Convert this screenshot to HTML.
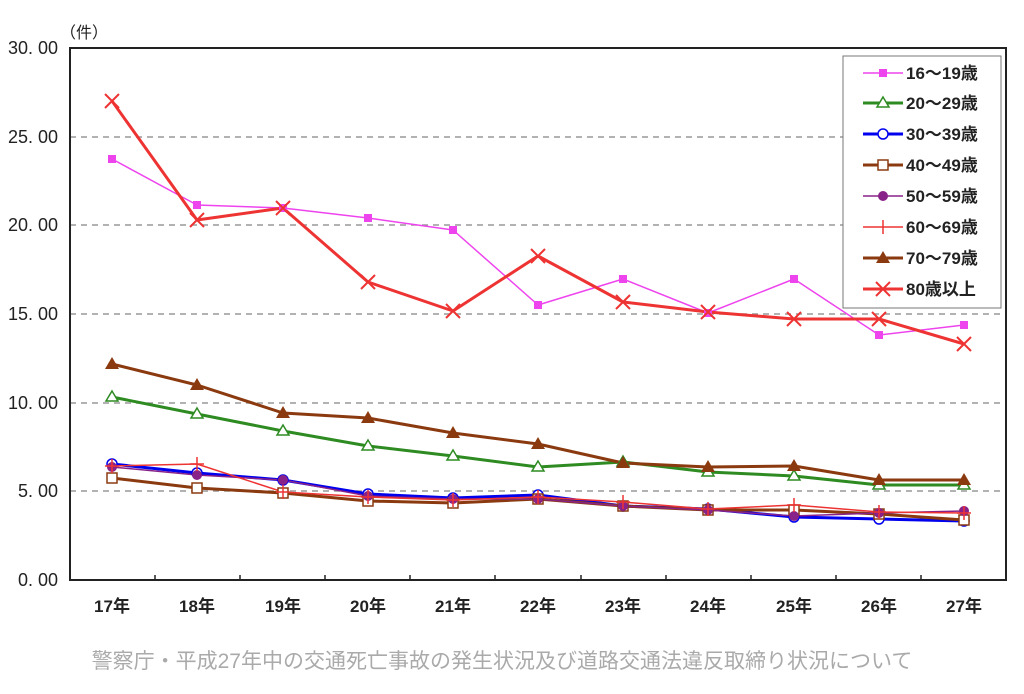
<!DOCTYPE html>
<html><head><meta charset="utf-8"><style>
body{margin:0;background:#fff;}
svg text{font-family:"Liberation Sans","Noto Sans CJK JP",sans-serif;}
</style></head><body>
<svg width="1024" height="689" viewBox="0 0 1024 689" xmlns="http://www.w3.org/2000/svg">
<g stroke="#999" stroke-width="1.5" stroke-dasharray="6,5">
<line x1="70" y1="137" x2="1006" y2="137"/><line x1="70" y1="225" x2="1006" y2="225"/>
<line x1="70" y1="314" x2="1006" y2="314"/><line x1="70" y1="403" x2="1006" y2="403"/>
<line x1="70" y1="491" x2="1006" y2="491"/>
</g>
<rect x="70" y="48" width="936" height="532" fill="none" stroke="#222" stroke-width="2"/>
<g stroke="#222" stroke-width="1.5">
<line x1="155" y1="575" x2="155" y2="580"/><line x1="240" y1="575" x2="240" y2="580"/><line x1="325" y1="575" x2="325" y2="580"/><line x1="410" y1="575" x2="410" y2="580"/><line x1="495" y1="575" x2="495" y2="580"/><line x1="581" y1="575" x2="581" y2="580"/><line x1="666" y1="575" x2="666" y2="580"/><line x1="751" y1="575" x2="751" y2="580"/><line x1="836" y1="575" x2="836" y2="580"/><line x1="921" y1="575" x2="921" y2="580"/>
</g>
<g font-size="18" fill="#222" text-anchor="end">
<text x="58" y="54">30. 00</text><text x="58" y="143">25. 00</text><text x="58" y="231">20. 00</text><text x="58" y="320">15. 00</text><text x="58" y="409">10. 00</text><text x="58" y="497">5. 00</text><text x="58" y="586">0. 00</text>
</g>
<text x="60" y="38" font-size="16" fill="#222">（件）</text>
<g font-size="17" fill="#222" text-anchor="middle" font-weight="bold">
<text x="112" y="612">17年</text><text x="197" y="612">18年</text><text x="283" y="612">19年</text><text x="368" y="612">20年</text><text x="453" y="612">21年</text><text x="538" y="612">22年</text><text x="623" y="612">23年</text><text x="708" y="612">24年</text><text x="794" y="612">25年</text><text x="879" y="612">26年</text><text x="964" y="612">27年</text>
</g>
<text x="502" y="668" font-size="21" fill="#aaa" text-anchor="middle">警察庁・平成27年中の交通死亡事故の発生状況及び道路交通法違反取締り状況について</text>
<g fill="none" stroke-linejoin="round">
<polyline stroke="#ee44ee" stroke-width="1.5" points="112,159 197,205 283,208 368,218 453,230 538,305 623,279 708,313 794,279 879,335 964,325"/>
<polyline stroke="#2e8b22" stroke-width="3" points="112,397 197,414 283,431 368,446 453,456 538,467 623,462 708,472 794,476 879,485 964,485"/>
<polyline stroke="#0000ee" stroke-width="3" points="112,464 197,473 283,480 368,494 453,498 538,495 623,506 708,509 794,517 879,519 964,521"/>
<polyline stroke="#8b3a10" stroke-width="3" points="112,478 197,488 283,493 368,501 453,503 538,499 623,506 708,510 794,510 879,514 964,520"/>
<polyline stroke="#882288" stroke-width="1.5" points="112,467 197,475 283,480 368,496 453,499 538,499 623,506 708,510 794,516 879,513 964,511"/>
<polyline stroke="#ee3333" stroke-width="1.5" points="112,466 197,464 283,492 368,497 453,500 538,497 623,502 708,509 794,505 879,512 964,513"/>
<polyline stroke="#8b3a10" stroke-width="3" points="112,364 197,385 283,413 368,418 453,433 538,444 623,463 708,467 794,466 879,480 964,480"/>
<polyline stroke="#ee3333" stroke-width="3" points="112,101 197,220 283,208 368,282 453,311 538,256 623,302 708,312 794,319 879,319 964,344"/>
</g>
<g>
<g fill="#ee44ee"><rect x="108" y="155" width="8" height="8"/><rect x="193" y="201" width="8" height="8"/><rect x="279" y="204" width="8" height="8"/><rect x="364" y="214" width="8" height="8"/><rect x="449" y="226" width="8" height="8"/><rect x="534" y="301" width="8" height="8"/><rect x="619" y="275" width="8" height="8"/><rect x="704" y="309" width="8" height="8"/><rect x="790" y="275" width="8" height="8"/><rect x="875" y="331" width="8" height="8"/><rect x="960" y="321" width="8" height="8"/></g>
<g fill="#fff" stroke="#2e8b22" stroke-width="1.5"><path d="M112,391l6,10h-12z"/><path d="M197,408l6,10h-12z"/><path d="M283,425l6,10h-12z"/><path d="M368,440l6,10h-12z"/><path d="M453,450l6,10h-12z"/><path d="M538,461l6,10h-12z"/><path d="M623,456l6,10h-12z"/><path d="M708,466l6,10h-12z"/><path d="M794,470l6,10h-12z"/><path d="M879,479l6,10h-12z"/><path d="M964,479l6,10h-12z"/></g>
<g fill="#fff" stroke="#0000ee" stroke-width="1.5"><circle cx="112" cy="464" r="5"/><circle cx="197" cy="473" r="5"/><circle cx="283" cy="480" r="5"/><circle cx="368" cy="494" r="5"/><circle cx="453" cy="498" r="5"/><circle cx="538" cy="495" r="5"/><circle cx="623" cy="506" r="5"/><circle cx="708" cy="509" r="5"/><circle cx="794" cy="517" r="5"/><circle cx="879" cy="519" r="5"/><circle cx="964" cy="521" r="5"/></g>
<g fill="#fff" stroke="#8b3a10" stroke-width="1.5"><rect x="107" y="473" width="10" height="10"/><rect x="192" y="483" width="10" height="10"/><rect x="278" y="488" width="10" height="10"/><rect x="363" y="496" width="10" height="10"/><rect x="448" y="498" width="10" height="10"/><rect x="533" y="494" width="10" height="10"/><rect x="618" y="501" width="10" height="10"/><rect x="703" y="505" width="10" height="10"/><rect x="789" y="505" width="10" height="10"/><rect x="874" y="509" width="10" height="10"/><rect x="959" y="515" width="10" height="10"/></g>
<g fill="#882288"><circle cx="112" cy="467" r="5"/><circle cx="197" cy="475" r="5"/><circle cx="283" cy="480" r="5"/><circle cx="368" cy="496" r="5"/><circle cx="453" cy="499" r="5"/><circle cx="538" cy="499" r="5"/><circle cx="623" cy="506" r="5"/><circle cx="708" cy="510" r="5"/><circle cx="794" cy="516" r="5"/><circle cx="879" cy="513" r="5"/><circle cx="964" cy="511" r="5"/></g>
<g stroke="#ee3333" stroke-width="1.5"><path d="M112,459v14M197,457v14M283,485v14M368,490v14M453,493v14M538,490v14M623,495v14M708,502v14M794,498v14M879,505v14M964,506v14"/><path d="M105,466h14M190,464h14M276,492h14M361,497h14M446,500h14M531,497h14M616,502h14M701,509h14M787,505h14M872,512h14M957,513h14"/></g>
<g fill="#8b3a10"><path d="M112,357l7,12h-14z"/><path d="M197,378l7,12h-14z"/><path d="M283,406l7,12h-14z"/><path d="M368,411l7,12h-14z"/><path d="M453,426l7,12h-14z"/><path d="M538,437l7,12h-14z"/><path d="M623,456l7,12h-14z"/><path d="M708,460l7,12h-14z"/><path d="M794,459l7,12h-14z"/><path d="M879,473l7,12h-14z"/><path d="M964,473l7,12h-14z"/></g>
<g stroke="#ee3333" stroke-width="2"><path d="M105,94l14,14M119,94l-14,14M190,213l14,14M204,213l-14,14M276,201l14,14M290,201l-14,14M361,275l14,14M375,275l-14,14M446,304l14,14M460,304l-14,14M531,249l14,14M545,249l-14,14M616,295l14,14M630,295l-14,14M701,305l14,14M715,305l-14,14M787,312l14,14M801,312l-14,14M872,312l14,14M886,312l-14,14M957,337l14,14M971,337l-14,14"/></g>
</g>
<rect x="843" y="56" width="158" height="252" fill="#fff" stroke="#777" stroke-width="1"/>
<g font-size="17" fill="#222" font-weight="bold">
<text x="906" y="79">16～19歳</text><text x="906" y="109">20～29歳</text><text x="906" y="140">30～39歳</text><text x="906" y="171">40～49歳</text><text x="906" y="202">50～59歳</text><text x="906" y="233">60～69歳</text><text x="906" y="264">70～79歳</text><text x="906" y="295">80歳以上</text>
</g>
<line x1="863" y1="73" x2="903" y2="73" stroke="#ee44ee" stroke-width="1.5"/><rect x="879" y="69" width="8" height="8" fill="#ee44ee"/>
<line x1="863" y1="103" x2="903" y2="103" stroke="#2e8b22" stroke-width="3"/><path d="M883,97l6,10h-12z" fill="#fff" stroke="#2e8b22" stroke-width="1.5"/>
<line x1="863" y1="134" x2="903" y2="134" stroke="#0000ee" stroke-width="3"/><circle cx="883" cy="134" r="5" fill="#fff" stroke="#0000ee" stroke-width="1.5"/>
<line x1="863" y1="165" x2="903" y2="165" stroke="#8b3a10" stroke-width="3"/><rect x="878" y="160" width="10" height="10" fill="#fff" stroke="#8b3a10" stroke-width="1.5"/>
<line x1="863" y1="196" x2="903" y2="196" stroke="#882288" stroke-width="1.5"/><circle cx="883" cy="196" r="5" fill="#882288"/>
<line x1="863" y1="227" x2="903" y2="227" stroke="#ee3333" stroke-width="1.5"/><line x1="883" y1="220" x2="883" y2="234" stroke="#ee3333" stroke-width="1.5"/>
<line x1="863" y1="258" x2="903" y2="258" stroke="#8b3a10" stroke-width="3"/><path d="M883,251l7,12h-14z" fill="#8b3a10"/>
<line x1="863" y1="289" x2="903" y2="289" stroke="#ee3333" stroke-width="3"/><path d="M876,282l14,14M890,282l-14,14" stroke="#ee3333" stroke-width="2"/>
</svg>
</body></html>
